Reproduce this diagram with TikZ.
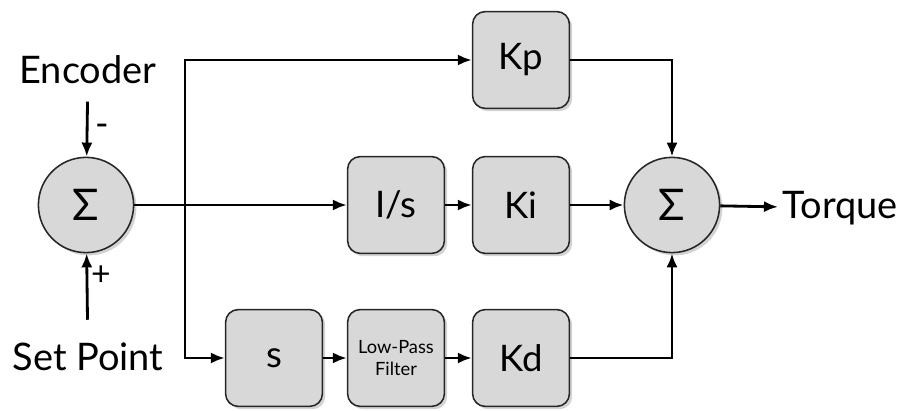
\documentclass[tikz,border=0pt]{standalone}
\usepackage{fontspec}
\setmainfont{Lato}
\usetikzlibrary{shadows,arrows.meta}
\definecolor{blockgray}{HTML}{D8D8D8}
\tikzset{
  block/.style={draw=black!85, line width=1.1pt, rounded corners=9pt, fill=blockgray,
    minimum width=2.42cm, minimum height=2.42cm, inner sep=0pt,
    drop shadow={opacity=0.35, shadow xshift=2pt, shadow yshift=-2pt},
    font=\fontsize{26}{30}\selectfont},
  sumnode/.style={draw=black!85, line width=1.1pt, circle, fill=blockgray,
    minimum size=2.38cm, inner sep=0pt,
    drop shadow={opacity=0.35, shadow xshift=2pt, shadow yshift=-2pt},
    font=\fontsize{31}{34}\selectfont},
  lbl/.style={font=\fontsize{27}{31}\selectfont},
  sig/.style={line width=2pt, -{Latex[length=10pt,width=8pt]}}
}
\begin{document}
\begin{tikzpicture}[x=0.025cm, y=-0.025cm]
    \useasboundingbox (0,0) rectangle (904,411);
    % summing junctions
    \node[sumnode] (err) at (86,205) {Σ};
    \node[sumnode] (out) at (672,205) {Σ};
    % inputs and output
    \node[lbl] (enc) at (88,70) {Encoder};
    \node[lbl] (sp) at (88,357) {Set Point};
    \node[lbl, anchor=west] (tq) at (778,208) {Torque};
    % gain blocks
    \node[block] (kp) at (521,60) {Kp};
    \node[block] (is) at (396,205) {I/s};
    \node[block] (ki) at (521,205) {Ki};
    \node[block] (s) at (274,358) {s};
    \node[block, font=\fontsize{13}{15}\selectfont, align=center] (lpf) at (396,358) {Low-Pass\\Filter};
    \node[block] (kd) at (521,358) {Kd};
    \coordinate (split) at (185,205);
    % signs at the error junction
    \node[font=\fontsize{26}{30}\selectfont] (minus) at (102,130) {-};
    \node[font=\fontsize{24}{28}\selectfont] (plus) at (101,276) {+};
    % signal paths
    \draw[sig, shorten <=9pt] (enc) -- (err);
    \draw[sig, shorten <=13pt] (sp) -- (err);
    \draw[sig] (err) -- (is);
    \draw[sig] (split) |- (kp);
    \draw[sig] (split) |- (s);
    \draw[sig] (is) -- (ki);
    \draw[sig] (ki) -- (out);
    \draw[sig] (s) -- (lpf);
    \draw[sig] (lpf) -- (kd);
    \draw[sig] (kp) -| (out);
    \draw[sig] (kd) -| (out);
    \draw[sig] (out) -- (tq);
\end{tikzpicture}
\end{document}
